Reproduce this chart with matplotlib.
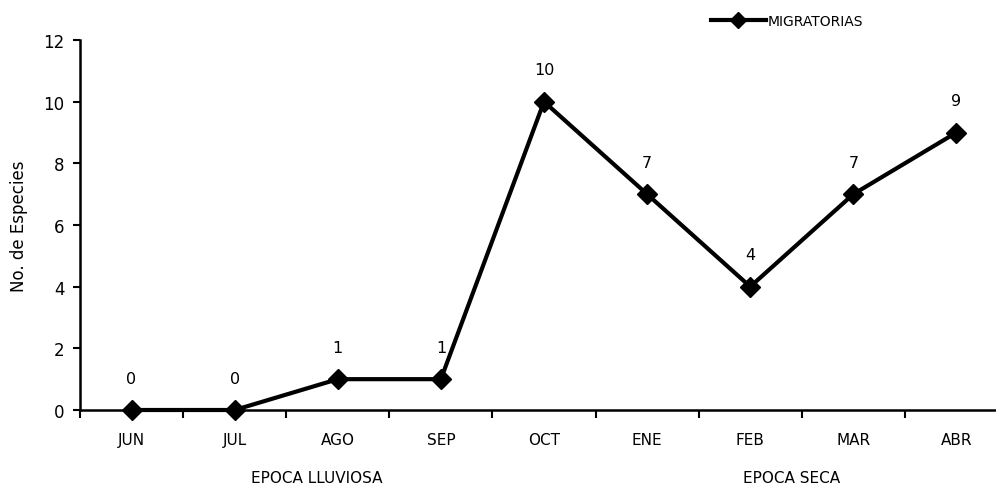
import numpy as np
import matplotlib.pyplot as plt

meses = ['JUN', 'JUL', 'AGO', 'SEP', 'OCT', 'ENE', 'FEB', 'MAR', 'ABR']
migratorias = [0, 0, 1, 1, 10, 7, 4, 7, 9]
epocas = ['EPOCA LLUVIOSA', 'EPOCA SECA']
epoca_pos = [1.8, 6.4]

plt.rcParams['font.family'] = ['DejaVu Sans']

fig = plt.figure(figsize=(9.96, 4.89), dpi=100)
ax = fig.add_axes([80/996, 78/489, 928/996, 370/489])

x = np.arange(len(meses))
ax.plot(x, migratorias, color='black', lw=3, marker='D', ms=10,
        clip_on=False, zorder=3, label='MIGRATORIAS')

for xi, v in zip(x, migratorias):
    ax.annotate(str(v), (xi, v), xytext=(0, 17.5), textcoords='offset points',
                ha='center', va='bottom', fontsize=11.5)

ax.set_xlim(-0.5, len(meses) - 0.5)
ax.set_ylim(0, 12)
ax.set_yticks(range(0, 13, 2))
ax.set_xticks(x)
ax.set_xticklabels(meses, fontsize=11)
ax.set_xticks(np.arange(-0.5, len(meses), 1), minor=True)
ax.tick_params(axis='x', which='major', length=0, pad=16)
ax.tick_params(axis='x', which='minor', length=6, width=1.5, direction='out')
ax.tick_params(axis='y', labelsize=12, length=5, width=1.5, pad=6)

ax.spines['top'].set_visible(False)
ax.spines['right'].set_visible(False)
ax.spines['left'].set_linewidth(1.8)
ax.spines['bottom'].set_linewidth(1.8)

ax.set_ylabel('No. de Especies', fontsize=12, labelpad=11)

for nombre, pos in zip(epocas, epoca_pos):
    ax.text(pos, -0.162, nombre, transform=ax.get_xaxis_transform(),
            ha='center', va='top', fontsize=11)

ax.legend(loc='upper left', bbox_to_anchor=(698/996, 0.995), bbox_transform=fig.transFigure,
          frameon=False, fontsize=10, handlelength=4, handletextpad=0.1,
          markerscale=0.8)

fig.savefig('out.png', dpi=100)
